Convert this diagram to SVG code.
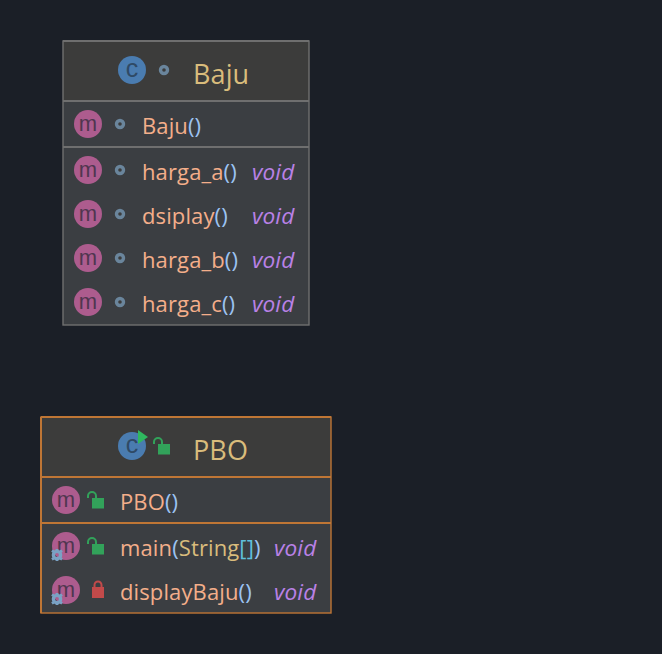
<svg xmlns="http://www.w3.org/2000/svg" width="662" height="654" viewBox="0 0 662 654">
<style>
text{font-family:"Open Sans","Noto Sans","Liberation Sans",sans-serif;font-size:22px;letter-spacing:.12px}
.t{font-size:27px;fill:#d9bc7c}
.n{fill:#f4ae8a}
.p{fill:#9cc3f2}
.s{fill:#d9bc7c}
.b{fill:#5fc0dc}
.v{fill:#b981e6;font-style:italic;font-size:22.6px}
.m{fill:#ad5c8e}
.ml{font-family:"Liberation Sans",sans-serif;font-size:22px;fill:#503650;text-anchor:middle;letter-spacing:0}
.c{fill:#4a7cb0}
.cl{font-family:"Liberation Sans",sans-serif;font-size:25px;fill:#2f4a66;text-anchor:middle;letter-spacing:0}
.pk{fill:#3c3c3c;stroke:#6a859c;stroke-width:3.4}
.hd{fill:#3c3c3b}
.bd{fill:#3b3e42}
.gl{fill:none;stroke:#6f6f6f;stroke-width:1.4}
.gd{stroke:#6f6f6f;stroke-width:2}
.ol{fill:none;stroke:#bf7635;stroke-width:1.4}
.od{stroke:#bf7635;stroke-width:2}
.gr{fill:#32a25a}
.ga{fill:none;stroke:#32a25a;stroke-width:2}
.rd{fill:#c24a4a}
.ra{fill:none;stroke:#c24a4a;stroke-width:2}
.gear{fill:#7aa2c4}
.gh{fill:none;stroke:#7aa2c4;stroke-width:3.4}
</style>
<defs>
<g id="mi"><circle r="14" class="m"/><text class="ml" y="7">m</text></g>
<g id="pkg"><circle r="3.5" class="pk"/></g>
<g id="unl"><path d="M-4 0V-2a4 4 0 0 1 8 0V0" class="ga"/><rect x="0" y="0" width="12" height="10.5" class="gr"/></g>
<g id="st"><circle r="3.6" class="gh"/><path d="M-1.4 -6h2.8v2.2h-2.8zM-1.4 3.8h2.8v2.2h-2.8zM-5.8 -3.2l1.4 -2.4 2 1.2 -1.4 2.4zM2.4 -4.4l2 -1.2 1.4 2.4 -2 1.2zM-5.8 3.2l1.4 2.4 2 -1.2 -1.4 -2.4zM2.4 4.4l2 1.2 1.4 -2.4 -2 -1.2z" class="gear"/></g>
</defs>
<rect width="662" height="654" fill="#1b1f27"/>
<g id="connectors"></g>
<g id="Baju">
<rect x="63" y="41" width="246" height="60" class="hd"/>
<rect x="63" y="101" width="246" height="224" class="bd"/>
<rect x="63" y="41" width="246" height="284" class="gl"/>
<path d="M63 41H309M63 101H309M63 147H309" class="gd"/>
<circle cx="132" cy="70" r="14" class="c"/><text class="cl" x="132" y="77">c</text>
<use href="#pkg" x="164" y="70"/>
<text class="t" x="193" y="84">Baju</text>
<use href="#mi" x="88" y="124"/><use href="#pkg" x="120" y="124"/>
<text x="142" y="134"><tspan class="n">Baju</tspan><tspan class="p">()</tspan></text>
<use href="#mi" x="88" y="170"/><use href="#pkg" x="120" y="170"/>
<text x="142" y="180"><tspan class="n">harga_a</tspan><tspan class="p">()</tspan></text>
<text class="v" x="252" y="180">void</text>
<use href="#mi" x="88" y="214"/><use href="#pkg" x="120" y="214"/>
<text x="142" y="224"><tspan class="n">dsiplay</tspan><tspan class="p">()</tspan></text>
<text class="v" x="252" y="224">void</text>
<use href="#mi" x="88" y="258"/><use href="#pkg" x="120" y="258"/>
<text x="142" y="268"><tspan class="n">harga_b</tspan><tspan class="p">()</tspan></text>
<text class="v" x="252" y="268">void</text>
<use href="#mi" x="88" y="302"/><use href="#pkg" x="120" y="302"/>
<text x="142" y="312"><tspan class="n">harga_c</tspan><tspan class="p">()</tspan></text>
<text class="v" x="252" y="312">void</text>
</g>
<g id="PBO">
<rect x="41" y="417" width="290" height="60" class="hd"/>
<rect x="41" y="477" width="290" height="136" class="bd"/>
<rect x="41" y="417" width="290" height="196" class="ol"/>
<path d="M41 417H331M41 417V613M41 477H331M41 523H331" class="od"/>
<circle cx="132" cy="446" r="14" class="c"/><text class="cl" x="132" y="453">c</text>
<path d="M138 430L148 437L138 444Z" fill="#2fb85f"/>
<use href="#unl" x="158" y="444"/>
<text class="t" x="193" y="460">PBO</text>
<use href="#mi" x="66" y="500"/><use href="#unl" x="92" y="498"/>
<text x="120" y="510"><tspan class="n">PBO</tspan><tspan class="p">()</tspan></text>
<use href="#mi" x="66" y="546"/><use href="#st" x="57" y="555"/><use href="#unl" x="92" y="544"/>
<text x="120" y="556"><tspan class="n">main</tspan><tspan class="p">(</tspan><tspan class="s">String</tspan><tspan class="b">[]</tspan><tspan class="p">)</tspan></text>
<text class="v" x="274" y="556">void</text>
<use href="#mi" x="66" y="590"/><use href="#st" x="57" y="599"/>
<rect x="92" y="587" width="12" height="11" class="rd"/><path d="M94.5 587V585a3.5 3.5 0 0 1 7 0V587" class="ra"/>
<text x="120" y="600"><tspan class="n">displayBaju</tspan><tspan class="p">()</tspan></text>
<text class="v" x="274" y="600">void</text>
</g>
</svg>
